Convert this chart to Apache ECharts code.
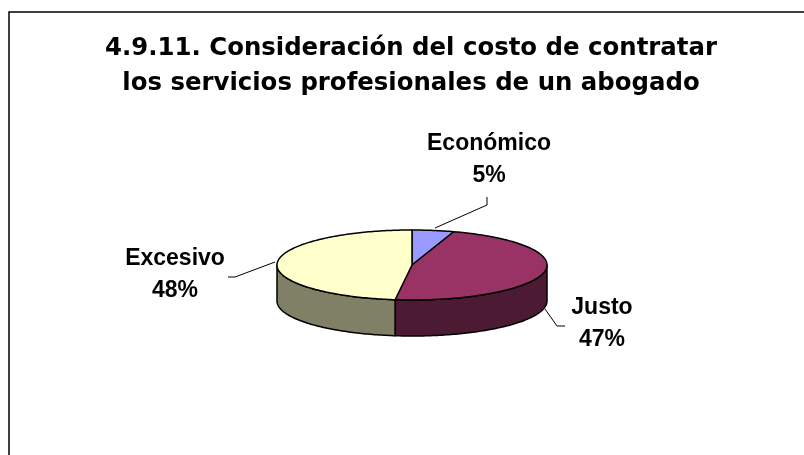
<!DOCTYPE html>
<html><head><meta charset="utf-8">
<script src="https://cdn.jsdelivr.net/npm/echarts@6/dist/echarts.min.js"></script>
<style>html,body{margin:0;padding:0;background:#fff}#c{width:804px;height:455px}</style>
</head><body><div id="c"></div>
<script>
const titleLines = ['4.9.11. Consideración del costo de contratar', 'los servicios profesionales de un abogado'];
const categories = ['Económico', 'Justo', 'Excesivo'];
const values = [5, 47, 48];
const topColors = ['#9999FF', '#993366', '#FFFFCC'];
const sideColors = ['#4D4D80', '#4D1A33', '#808066'];

const PIE = {cx: 412, cy: 265, rx: 135, ry: 35, depth: 36};
const LABEL_LAYOUT = [
  {x: 489, y: 160, line: [[487, 197], [487, 205], [435, 228]]},
  {x: 602, y: 324, line: [[545, 309], [557, 326], [565, 326]]},
  {x: 175, y: 275, line: [[228, 277], [235, 277], [275, 262]]}
];

const total = values.reduce((a, b) => a + b, 0);

function pt(deg, dz) {
  const r = deg * Math.PI / 180;
  return [PIE.cx + PIE.rx * Math.sin(r), PIE.cy - PIE.ry * Math.cos(r) + dz];
}

function renderItem(params, api) {
  const i = params.dataIndex;
  const v = api.value(0);
  let before = 0;
  for (let k = 0; k < i; k++) before += values[k];
  const a0 = before / total * 360, a1 = (before + v) / total * 360;
  const children = [];
  const s0 = Math.max(a0, 90), s1 = Math.min(a1, 270);
  if (s1 > s0) {
    const pts = [];
    for (let d = s0; d < s1; d += 1) pts.push(pt(d, 0));
    pts.push(pt(s1, 0));
    for (let d = s1; d > s0; d -= 1) pts.push(pt(d, PIE.depth));
    pts.push(pt(s0, PIE.depth));
    children.push({type: 'polygon', z2: 1, shape: {points: pts},
      style: {fill: sideColors[i], stroke: '#000', lineWidth: 1.5, lineJoin: 'round'}});
  }
  const tp = [[PIE.cx, PIE.cy]];
  for (let d = a0; d < a1; d += 1) tp.push(pt(d, 0));
  tp.push(pt(a1, 0));
  children.push({type: 'polygon', z2: 2, shape: {points: tp},
    style: {fill: topColors[i], stroke: '#000', lineWidth: 1.5, lineJoin: 'round'}});
  const L = LABEL_LAYOUT[i];
  children.push({type: 'polyline', z2: 3, shape: {points: L.line},
    style: {stroke: '#000', lineWidth: 1, fill: null}});
  children.push({type: 'text', z2: 3, x: L.x, y: L.y,
    style: {text: categories[i] + '\n' + values[i] + '%', fill: '#000',
      fontSize: 23, fontWeight: 'bold', fontFamily: '"Liberation Sans", Arial, sans-serif',
      align: 'center', verticalAlign: 'middle', lineHeight: 32}});
  return {type: 'group', children: children};
}

const chart = echarts.init(document.getElementById('c'));
chart.setOption({
  animation: false,
  backgroundColor: '#fff',
  title: {
    text: titleLines.join('\n'),
    left: 411, top: 31, textAlign: 'center', padding: 0,
    textStyle: {fontFamily: '"DejaVu Sans", sans-serif', fontWeight: 'bold', fontSize: 24.4,
      color: '#000', lineHeight: 35}
  },
  graphic: [{type: 'rect', shape: {x: 9, y: 12, width: 900, height: 600},
    style: {fill: null, stroke: '#000', lineWidth: 1.5}, silent: true}],
  series: [{
    type: 'custom',
    coordinateSystem: 'none',
    renderItem: renderItem,
    data: values.map((v, i) => ({name: categories[i], value: [v]}))
  }]
});
</script></body></html>
